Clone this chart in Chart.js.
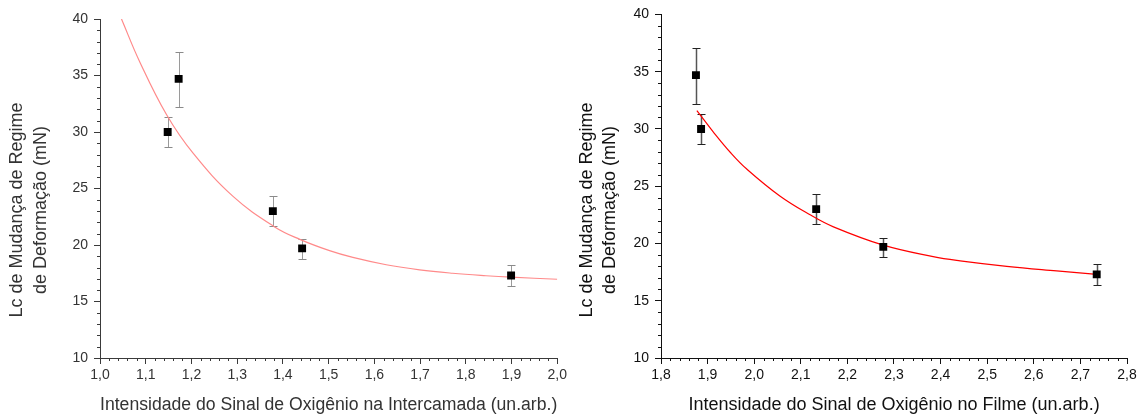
<!DOCTYPE html>
<html><head><meta charset="utf-8">
<script src="https://cdn.jsdelivr.net/npm/chart.js@4"></script>
<style>
html,body{margin:0;padding:0;background:#fff;}
#wrap{position:relative;width:1145px;height:419px;overflow:hidden;}
.box{position:absolute;top:0;height:419px;}
#b1{left:0;width:570px;}
#b2{left:570px;width:575px;}
</style></head><body>
<div id="wrap"><div class="box" id="b1"><canvas id="c1"></canvas></div><div class="box" id="b2"><canvas id="c2"></canvas></div></div>
<script>
// ---- data ----
const lcValues  = [30.0, 34.7, 23.0, 19.7, 17.3];
const lcErrLow  = [28.7, 32.2, 21.7, 18.8, 16.4];
const lcErrHigh = [31.3, 37.1, 24.3, 20.5, 18.2];

const xIntercamada = [1.148, 1.172, 1.378, 1.442, 1.899];
const xFilme       = [1.886, 1.875, 2.133, 2.277, 2.735];

const fitIntercamadaX = [1.047, 1.087, 1.146, 1.204, 1.291, 1.382, 1.437, 1.502, 1.553, 1.626, 1.699, 1.771, 1.844, 1.899, 2.0];
const fitIntercamadaY = [40.0, 36.2, 31.5, 28.1, 24.3, 21.6, 20.5, 19.5, 18.9, 18.25, 17.8, 17.5, 17.28, 17.15, 16.97];

const fitFilmeX = [1.877, 1.912, 1.95, 1.984, 2.055, 2.12, 2.17, 2.277, 2.384, 2.442, 2.542, 2.649, 2.735];
const fitFilmeY = [31.6, 29.75, 27.9, 26.5, 24.15, 22.5, 21.45, 19.85, 18.85, 18.48, 18.0, 17.6, 17.3];

const yTicks = [10, 15, 20, 25, 30, 35, 40];
const xTicksIntercamada = [1.0, 1.1, 1.2, 1.3, 1.4, 1.5, 1.6, 1.7, 1.8, 1.9, 2.0];
const xTicksFilme = [1.8, 1.9, 2.0, 2.1, 2.2, 2.3, 2.4, 2.5, 2.6, 2.7, 2.8];

const yTitleLines = ['Lc de Mudança de Regime', 'de Deformação (mN)'];
const xTitleIntercamada = 'Intensidade do Sinal de Oxigênio na Intercamada (un.arb.)';
const xTitleFilme = 'Intensidade do Sinal de Oxigênio no Filme (un.arb.)';

const FONT = "'Liberation Sans', Arial, Helvetica, sans-serif";

const decor = {
  id: 'decor',
  beforeDatasetsDraw(chart, args, o) {
    const {ctx, scales: {x, y}} = chart;
    ctx.save();
    o.xs.forEach((xv, i) => {
      const px = Math.round(x.getPixelForValue(xv)) + 0.5;
      const lo = Math.round(y.getPixelForValue(o.lo[i])) + 0.5;
      const hi = Math.round(y.getPixelForValue(o.hi[i])) + 0.5;
      ctx.strokeStyle = o.barColor; ctx.lineWidth = o.barWidth;
      ctx.beginPath(); ctx.moveTo(px, lo); ctx.lineTo(px, hi); ctx.stroke();
      ctx.strokeStyle = o.capColor; ctx.lineWidth = 1;
      ctx.beginPath();
      ctx.moveTo(px - o.cap, lo); ctx.lineTo(px + o.cap, lo);
      ctx.moveTo(px - o.cap, hi); ctx.lineTo(px + o.cap, hi);
      ctx.stroke();
    });
    ctx.restore();
  },
  afterDraw(chart, args, o) {
    const {ctx, scales: {x, y}} = chart;
    ctx.save();
    ctx.strokeStyle = o.axisColor; ctx.lineWidth = 1;
    ctx.beginPath();
    const xmin = x.min, xmax = x.max;
    const nx = Math.round((xmax - xmin) / o.minorX);
    for (let k = 0; k <= nx; k++) {
      if (k % 5 === 0) continue;
      const px = Math.round(x.getPixelForValue(xmin + k * o.minorX)) + 0.5;
      ctx.moveTo(px, x.top); ctx.lineTo(px, x.top + o.minorLen);
    }
    const ny = Math.round((y.max - y.min) / o.minorY);
    for (let k = 0; k <= ny; k++) {
      if (k % 5 === 0) continue;
      const py = Math.round(y.getPixelForValue(y.min + k * o.minorY)) + 0.5;
      ctx.moveTo(y.right - o.minorLen, py); ctx.lineTo(y.right, py);
    }
    ctx.stroke();
    // y title (two lines, rotated)
    ctx.fillStyle = o.textColor;
    ctx.font = '18px ' + FONT;
    ctx.textAlign = 'center'; ctx.textBaseline = 'middle';
    o.yTitle.forEach((t, i) => {
      ctx.save();
      ctx.translate(o.yTitleX[i], o.yTitleY);
      ctx.rotate(-Math.PI / 2);
      ctx.fillText(t, 0, 0);
      ctx.restore();
    });
    ctx.restore();
  }
};

function build(id, p) {
  const fmt = v => Number(v).toFixed(1).replace('.', ',');
  return new Chart(document.getElementById(id), {
    type: 'scatter',
    data: {
      datasets: [
        {
          data: lcValues.map((v, i) => ({x: p.xs[i], y: v})),
          pointStyle: 'rect', pointRadius: 5.6, pointHoverRadius: 5.6,
          backgroundColor: '#000', borderColor: '#000', borderWidth: 0,
          order: 1
        },
        {
          type: 'line',
          data: p.fitX.map((v, i) => ({x: v, y: p.fitY[i]})),
          borderColor: p.fitColor, borderWidth: p.fitWidth, pointRadius: 0,
          fill: false, tension: 0.4, cubicInterpolationMode: 'default', order: 2
        }
      ]
    },
    options: {
      responsive: false, animation: false, devicePixelRatio: 1,
      events: [],
      layout: {padding: p.pad},
      plugins: {
        legend: {display: false}, tooltip: {enabled: false},
        decor: {
          xs: p.xs, lo: lcErrLow, hi: lcErrHigh,
          barColor: p.barColor, capColor: p.capColor, barWidth: p.barWidth, cap: 4,
          axisColor: p.axisColor, textColor: p.textColor,
          minorX: 0.02, minorY: 1, minorLen: 3,
          yTitle: yTitleLines, yTitleX: p.yTitleX, yTitleY: 210
        }
      },
      scales: {
        x: {
          type: 'linear', min: p.xTicks[0], max: p.xTicks[p.xTicks.length - 1],
          afterBuildTicks: s => { s.ticks = p.xTicks.map(v => ({value: v})); },
          afterFit: s => { s.height = 61; },
          grid: {drawOnChartArea: false, drawTicks: true, tickLength: 6, tickColor: p.axisColor},
          border: {display: true, color: p.axisColor, width: 1},
          ticks: {autoSkip: false, maxRotation: 0, padding: 3, color: p.textColor,
                  font: {family: FONT, size: 14}, callback: v => fmt(v)},
          title: {display: true, text: p.xTitle, color: p.textColor,
                  font: {family: FONT, size: 18}, padding: {top: 0, bottom: 3}}
        },
        y: {
          type: 'linear', min: 10, max: 40,
          afterBuildTicks: s => { s.ticks = yTicks.map(v => ({value: v})); },
          afterFit: s => { s.width = p.yWidth; },
          grid: {drawOnChartArea: false, drawTicks: true, tickLength: 6, tickColor: p.axisColor},
          border: {display: true, color: p.axisColor, width: 1},
          ticks: {autoSkip: false, padding: 6, color: p.textColor,
                  font: {family: FONT, size: 14}, callback: v => String(v)},
          title: {display: false}
        }
      }
    },
    plugins: [decor]
  });
}

const c1 = document.getElementById('c1'); c1.width = 570; c1.height = 419;
const c2 = document.getElementById('c2'); c2.width = 575; c2.height = 419;

build('c1', {
  xs: xIntercamada, fitX: fitIntercamadaX, fitY: fitIntercamadaY,
  fitColor: '#ff8a8a', fitWidth: 1.2,
  barColor: '#9a9a9a', capColor: '#8a8a8a', barWidth: 1,
  axisColor: '#3a3a3a', textColor: '#333333',
  xTicks: xTicksIntercamada, xTitle: xTitleIntercamada,
  pad: {left: 0, right: 12, top: 19, bottom: 0}, yWidth: 100,
  yTitleX: [17, 41]
});
build('c2', {
  xs: xFilme, fitX: fitFilmeX, fitY: fitFilmeY,
  fitColor: '#ff0000', fitWidth: 1.2,
  barColor: '#555555', capColor: '#222222', barWidth: 1.5,
  axisColor: '#111111', textColor: '#111111',
  xTicks: xTicksFilme, xTitle: xTitleFilme,
  pad: {left: 0, right: 18, top: 13, bottom: 0}, yWidth: 91,
  yTitleX: [17, 40]
});
</script>
</body></html>
